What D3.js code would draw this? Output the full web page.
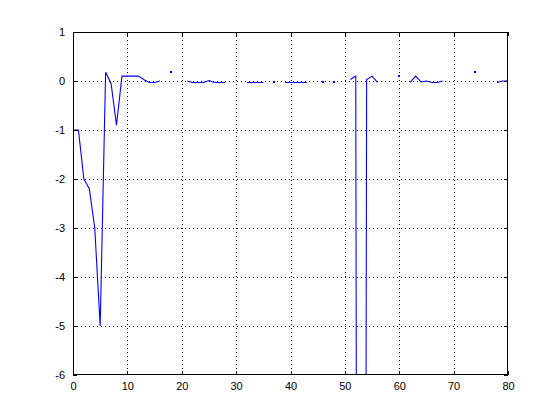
<!DOCTYPE html>
<html>
<head>
<meta charset="utf-8">
<script src="https://cdn.jsdelivr.net/npm/d3@7"></script>
<style>
  body { margin: 0; background: #ffffff; }
  svg { display: block; }
  text { font-family: "Liberation Sans", Arial, sans-serif; font-size: 11px; fill: #000; }
</style>
</head>
<body>
<svg id="chart" width="560" height="420"></svg>
<script>
const xTicks = [0, 10, 20, 30, 40, 50, 60, 70, 80];
const yTicks = [1, 0, -1, -2, -3, -4, -5, -6];
const xs = d3.range(0, 81);
const N = NaN;
const ys = [
  -1, -1, -2, -2.2, -3.0, -5, 0.18, -0.05, -0.9, 0.1,
  0.1, 0.1, 0.1, 0.03, -0.03, -0.03, 0, N, 0.18, N,
  N, 0.0, -0.03, -0.03, -0.03, 0.01, -0.03, -0.03, -0.03, N,
  N, N, -0.03, -0.03, -0.03, -0.03, N, -0.03, N, -0.03,
  -0.03, -0.03, -0.03, -0.03, N, N, -0.03, N, -0.03, N,
  N, 0.03, 0.1, -60, 0.03, 0.1, -0.03, N, N, N,
  0.1, N, -0.03, 0.1, -0.02, 0.0, -0.03, -0.03, 0.0, N,
  N, N, N, N, 0.18, N, N, N, -0.03, 0.0,
  0.0
];

const data = xs.map((x, i) => ({x: x, y: ys[i]}));
const svg = d3.select("#chart");
const L = 73, R = 508, T = 32, B = 375;
const x = d3.scaleLinear().domain([0, 80]).range([L, R]);
const y = d3.scaleLinear().domain([-6, 1]).range([B, T]);

// grid
const g = svg.append("g").attr("shape-rendering", "crispEdges");
g.selectAll(".gx").data(xTicks.slice(1, -1)).enter().append("line")
  .attr("x1", d => Math.round(x(d)) + 0.5).attr("x2", d => Math.round(x(d)) + 0.5)
  .attr("y1", T).attr("y2", B)
  .attr("stroke", "#000").attr("stroke-width", 1).attr("stroke-dasharray", "1,3");
g.selectAll(".gy").data(yTicks.slice(1, -1)).enter().append("line")
  .attr("y1", d => Math.round(y(d)) + 0.5).attr("y2", d => Math.round(y(d)) + 0.5)
  .attr("x1", L).attr("x2", R)
  .attr("stroke", "#000").attr("stroke-width", 1).attr("stroke-dasharray", "1,3");

// clip
svg.append("clipPath").attr("id", "clip").append("rect")
  .attr("x", L).attr("y", T).attr("width", R - L).attr("height", B - T);

const line = d3.line().defined(d => !isNaN(d.y)).x(d => x(d.x)).y(d => y(d.y));
svg.append("path").datum(data).attr("clip-path", "url(#clip)")
  .attr("d", line).attr("fill", "none").attr("stroke", "#0000ff").attr("stroke-width", 1.1);

// isolated points
const iso = data.filter((d, i) => !isNaN(d.y) && (i === 0 || isNaN(ys[i - 1])) && (i === ys.length - 1 || isNaN(ys[i + 1])));
svg.selectAll(".iso").data(iso).enter().append("rect")
  .attr("shape-rendering", "crispEdges")
  .attr("x", d => Math.round(x(d.x)) - 1).attr("y", d => Math.round(y(d.y)) - 1)
  .attr("width", 2).attr("height", 2).attr("fill", "#0000ff");

// axes
const xAxisB = d3.axisBottom(x).tickValues(xTicks).tickSizeInner(-4).tickSizeOuter(0).tickPadding(7).tickFormat(d3.format("d"));
const xAxisT = d3.axisTop(x).tickValues(xTicks).tickSizeInner(-4).tickSizeOuter(0).tickFormat("");
const yAxisL = d3.axisLeft(y).tickValues(yTicks).tickSizeInner(-4).tickSizeOuter(0).tickPadding(8).tickFormat(d => String(d).replace("−", "-"));
const yAxisR = d3.axisRight(y).tickValues(yTicks).tickSizeInner(-4).tickSizeOuter(0).tickFormat("");

function style(sel) {
  sel.select(".domain").remove();
  sel.selectAll("line").attr("stroke", "#000").attr("shape-rendering", "crispEdges");
  sel.selectAll("text").attr("fill", "#000").style("font-size", "11px");
}
svg.append("g").attr("transform", `translate(0,${B})`).call(xAxisB).call(style);
svg.append("g").attr("transform", `translate(0,${T})`).call(xAxisT).call(style);
svg.append("g").attr("transform", `translate(${L},0)`).call(yAxisL).call(style);
svg.append("g").attr("transform", `translate(${R},0)`).call(yAxisR).call(style);

svg.append("rect").attr("x", L + 0.5).attr("y", T + 0.5).attr("width", R - L - 1).attr("height", B - T - 1)
  .attr("fill", "none").attr("stroke", "#000").attr("stroke-width", 1).attr("shape-rendering", "crispEdges");
</script>
</body>
</html>
